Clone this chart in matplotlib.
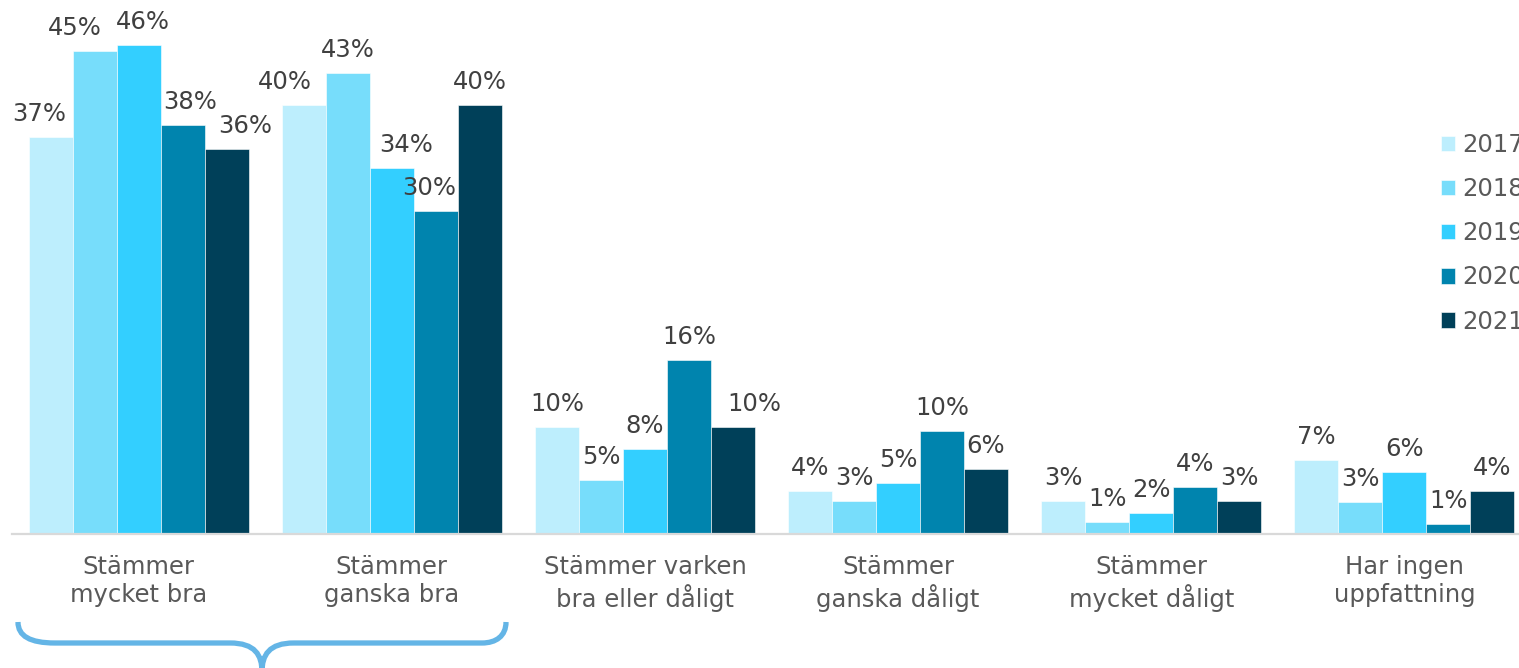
import matplotlib.pyplot as plt
import numpy as np
from matplotlib.path import Path
from matplotlib.patches import PathPatch

# Data
kategorier = ["Stämmer\nmycket bra", "Stämmer\nganska bra", "Stämmer varken\nbra eller dåligt",
              "Stämmer\nganska dåligt", "Stämmer\nmycket dåligt", "Har ingen\nuppfattning"]
ar = ["2017", "2018", "2019", "2020", "2021"]
v2017 = [37.3, 40.3, 10.1, 4.0, 3.1, 7.0]
v2018 = [45.4, 43.3, 5.1, 3.1, 1.1, 3.0]
v2019 = [46.0, 34.4, 8.0, 4.8, 2.0, 5.8]
v2020 = [38.4, 30.4, 16.4, 9.7, 4.4, 0.9]
v2021 = [36.2, 40.3, 10.1, 6.1, 3.1, 4.0]
serier = [v2017, v2018, v2019, v2020, v2021]

farger = ["#BDEEFD", "#77DDFB", "#33CFFF", "#0084AE", "#004059"]

# manual horizontal shifts of some value labels (pixels), as in the original
etikett_dx = [[-11, -19, 0, 0, 0, 0],
              [-20, 0, 0, 0, 0, 0],
              [4, 14, 0, 0, 0, 0],
              [8, -7, 0, 0, 0, 0],
              [19, 0, 21, 0, 0, 0]]

W, H = 1519, 668
fig = plt.figure(figsize=(W / 100, H / 100), dpi=100)
plt.rcParams['font.family'] = ['DejaVu Sans']
fs = 17.5

# axes larger than figure on the right, like the original
ax = fig.add_axes([12 / W, 134 / H, 1519 / W, 532 / H])
ax.set_xlim(-0.5, 5.5)
ax.set_ylim(0, 50)

x = np.arange(len(kategorier))
bredd = 0.1737
for i, (namn, vals, c) in enumerate(zip(ar, serier, farger)):
    pos = x + (i - 2) * bredd
    ax.bar(pos, vals, bredd, color=c, label=namn, edgecolor='white', linewidth=0.4)
    for xp, v, dx in zip(pos, vals, etikett_dx[i]):
        ax.annotate(f"{v:.0f}%", (xp, v), xytext=(dx * 0.72, 11.5), textcoords='offset points',
                    ha='center', va='baseline', fontsize=fs, color='#404040')

# axes styling
for s in ['top', 'right', 'left']:
    ax.spines[s].set_visible(False)
ax.spines['bottom'].set_color('#D9D9D9')
ax.spines['bottom'].set_linewidth(1.6)
ax.set_yticks([])
ax.set_xticks([])

# category labels
for xi, k in zip(x, kategorier):
    ax.annotate(k, (xi, 0), xycoords=('data', 'axes fraction'), xytext=(0, -15),
                textcoords='offset points', ha='center', va='top', fontsize=fs,
                color='#595959', linespacing=1.22)

# legend
leg = fig.legend(loc='upper left', bbox_to_anchor=(1419 / W, 1 - 111 / H), frameon=False,
                 fontsize=fs, handlelength=0.6, handleheight=0.6, handletextpad=0.3,
                 labelspacing=0.83, labelcolor='#595959')

# curly bracket below the two first categories (pixels from top-left)
def px(xp, yp):
    return (xp / W, 1 - yp / H)

pts = [(18, 622), (18, 636), (30, 643), (55, 643),
       (230, 643), (255, 643), (262, 655), (262, 672),
       (262, 655), (269, 643), (294, 643),
       (482, 643), (496, 643), (506, 636), (506, 622)]
codes = [Path.MOVETO, Path.CURVE4, Path.CURVE4, Path.CURVE4,
         Path.LINETO, Path.CURVE4, Path.CURVE4, Path.CURVE4,
         Path.CURVE4, Path.CURVE4, Path.CURVE4,
         Path.LINETO, Path.CURVE4, Path.CURVE4, Path.CURVE4]
bracket = Path([px(*p) for p in pts], codes)
fig.patches.append(PathPatch(bracket, transform=fig.transFigure, fill=False,
                             edgecolor='#64B5E6', linewidth=3.8, capstyle='butt'))

fig.savefig("out.png", dpi=100)
